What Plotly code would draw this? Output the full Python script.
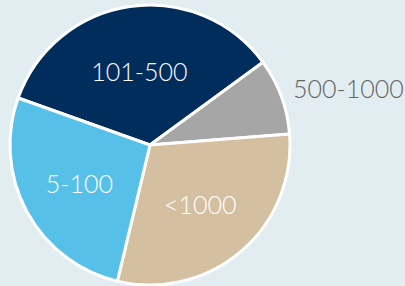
import plotly.graph_objects as go

categories = ["101-500", "500-1000", "<1000", "5-100"]
values = [34.5, 8.8, 30.0, 26.7]
colors = ["#012d5c", "#a6a6a6", "#d5bfa1", "#57c0e9"]
text_colors = ["#ffffff", "#636363", "#ffffff", "#ffffff"]
texttemplates = ["%{label}", "", "%{label}", "%{label}"]

W, H = 405, 286
cx, cy, r = 150, 145, 140
BG = "#e2edf2"

fig = go.Figure(go.Pie(
    labels=categories,
    values=values,
    sort=False,
    direction="clockwise",
    rotation=-70.4,
    marker=dict(colors=colors, line=dict(color="#ffffff", width=3)),
    texttemplate=texttemplates,
    textposition="inside",
    insidetextorientation="horizontal",
    textfont=dict(family="Lato", size=25, color=text_colors, weight=300),
    domain=dict(x=[(cx - r) / W, (cx + r) / W], y=[(H - cy - r) / H, (H - cy + r) / H]),
    showlegend=False,
    hoverinfo="label+value",
))

fig.add_annotation(
    text=categories[1], x=348 / W, y=1 - 88 / H, xref="paper", yref="paper",
    showarrow=False, xanchor="center", yanchor="middle",
    font=dict(family="Lato", size=25, color="#636363", weight=300),
)

fig.update_layout(
    width=W, height=H,
    margin=dict(l=0, r=0, t=0, b=0),
    paper_bgcolor=BG,
    plot_bgcolor=BG,
    uniformtext=dict(minsize=25, mode="show"),
)

fig.write_html(
    "out.html",
    config={"displayModeBar": False},
    post_script="document.body.style.margin='0';document.body.style.background='%s';" % BG,
)
